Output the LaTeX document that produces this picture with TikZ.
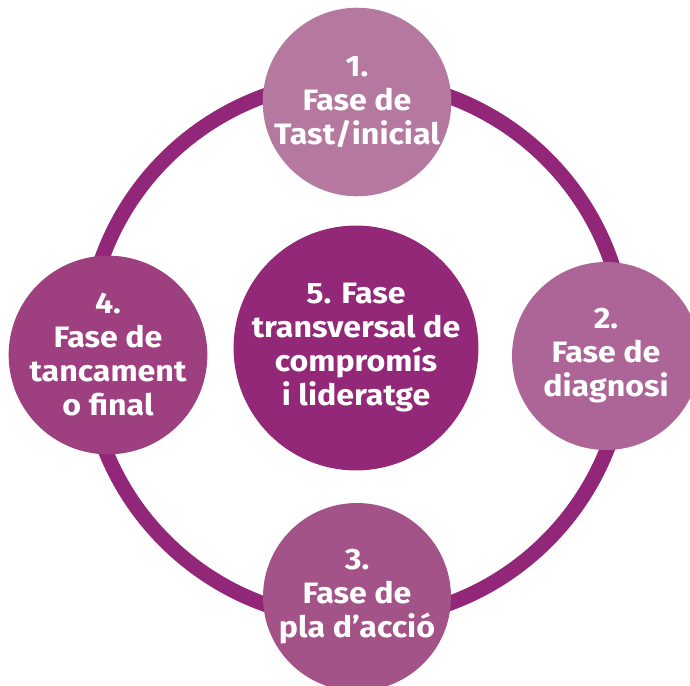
\documentclass[tikz,border=0pt]{standalone}
\usepackage{fontspec}
\setmainfont{Fira Sans}[FakeStretch=1.09]
\usepackage{xcolor}
\definecolor{ringpurple}{RGB}{146,38,120}
\definecolor{phaseone}{RGB}{181,121,160}
\definecolor{phasetwo}{RGB}{173,100,150}
\definecolor{phasethree}{RGB}{164,83,137}
\definecolor{phasefour}{RGB}{158,63,128}
\definecolor{phasefive}{RGB}{147,40,120}
\usepackage{tikz}
\newcommand{\radiusphase}{188pt}
\newcommand{\radiuscore}{238pt}
\newcommand{\phasefont}{\fontsize{29.5}{34}\selectfont\bfseries}
\tikzset{
    common/.style={circle, inner sep=0pt, text=white, align=center, font=\phasefont},
    phase/.style={common, minimum size=\radiusphase},
    core/.style={common, minimum size=\radiuscore},
    ring/.style={line width=15pt, ringpurple}
}
\begin{document}
\begin{tikzpicture}[x=1pt, y=-1pt]
      \useasboundingbox (0,0) rectangle (690,685);
      \coordinate (mid) at (356,350);
      \draw[ring] (mid) circle[radius=270];

      \node[phase, fill=phaseone] (P1) at (357,102) {1.\\Fase de\\Tast/inicial};
      \node[phase, fill=phasetwo] (P2) at (606,356) {2.\\Fase de\\diagnosi};
      \node[phase, fill=phasethree] (P3) at (357,597) {3.\\Fase de\\pla d’acció};
      \node[phase, fill=phasefour] (P4) at (108,355) {4.\\Fase de\\tancament\\o final};
      \node[core, fill=phasefive] (P5) at (356,348) {5. Fase\\transversal de\\compromís\\i lideratge};
    \end{tikzpicture}
\end{document}
